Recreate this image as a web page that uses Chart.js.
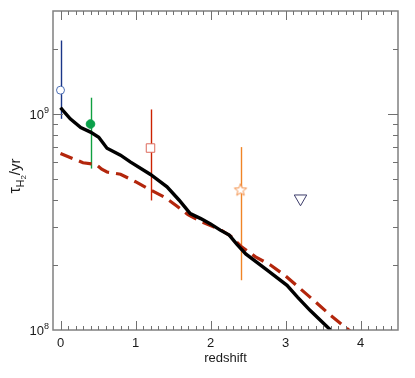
<!DOCTYPE html>
<html>
<head>
<meta charset="utf-8">
<script src="https://cdn.jsdelivr.net/npm/chart.js@4"></script>
<style>
  body { margin: 0; background: #fff; }
  #wrap { width: 415px; height: 378px; }
</style>
</head>
<body>
<div id="wrap"><canvas id="tauChart" width="415" height="378"></canvas></div>
<script>
// model curves: depletion time vs redshift
const modelZ = [0, 0.13, 0.27, 0.4, 0.51, 0.62, 0.8, 0.93, 1.2, 1.42, 1.58, 1.73, 1.87, 2.0, 2.13, 2.25, 2.35, 2.47, 2.76, 3.02, 3.16, 3.33, 3.6];
const modelTau = [1.07e9, 9.5e8, 8.65e8, 8.25e8, 7.8e8, 6.95e8, 6.45e8, 6.0e8, 5.25e8, 4.6e8, 4.0e8, 3.46e8, 3.28e8, 3.1e8, 2.9e8, 2.75e8, 2.5e8, 2.25e8, 1.89e8, 1.61e8, 1.42e8, 1.23e8, 1.0e8];

const dashZ = [0, 0.3, 0.47, 0.55, 0.62, 0.8, 1.0, 1.2, 1.4, 1.55, 1.7, 1.87, 2.0, 2.13, 2.27, 2.4, 2.6, 2.8, 3.0, 3.2, 3.4, 3.6, 3.86];
const dashTau = [6.57e8, 5.95e8, 5.85e8, 5.55e8, 5.39e8, 5.26e8, 4.86e8, 4.45e8, 4.1e8, 3.75e8, 3.42e8, 3.18e8, 3.05e8, 2.92e8, 2.72e8, 2.45e8, 2.18e8, 2.0e8, 1.78e8, 1.55e8, 1.35e8, 1.17e8, 0.99e8];

// observations
const obsZ = [0, 0.4, 1.2, 2.4, 3.2];
const obsTau = [1.29e9, 8.99e8, 6.96e8, 4.48e8, 4.06e8];
const obsLo = [9.5e8, 5.59e8, 3.98e8, 1.70e8, null];
const obsHi = [2.19e9, 1.19e9, 1.05e9, 7.03e8, null];

const xTicks = [0, 1, 2, 3, 4];
const yTicks = [1e8, 1e9];

const barColors = ['#1a3688', '#10a040', '#cc2200', '#f08426', null];
const markColors = ['#4d6fb5', '#0aa04a', '#dd6a5c', '#f2904a', '#3c3c6a'];

function makeStar(color, r) {
    const s = Math.ceil(r * 2 + 3);
    const c = document.createElement('canvas');
    c.width = s; c.height = s;
    const g = c.getContext('2d');
    g.beginPath();
    for (let k = 0; k < 10; k++) {
        const a = -Math.PI / 2 + k * Math.PI / 5;
        const rr = k % 2 ? r * 0.42 : r;
        g.lineTo(s / 2 + rr * Math.cos(a), s / 2 + 0.8 + rr * Math.sin(a));
    }
    g.closePath();
    g.fillStyle = '#fff';
    g.fill();
    g.strokeStyle = color;
    g.lineWidth = 1;
    g.stroke();
    return c;
}

const pointStyles = ['circle', 'circle', 'rect', makeStar(markColors[3], 6.5), 'triangle'];
const pointRadius = [4, 4.3, 6, 6.5, 7.2];
const pointFill = ['#fff', markColors[1], '#fff', '#fff', 'rgba(255,255,255,0)'];
const pointRot = [0, 0, 0, 0, 180];

const errorBars = {
    id: 'errorBars',
    beforeDatasetsDraw(chart) {
        const { ctx, scales: { x, y } } = chart;
        ctx.save();
        ctx.lineWidth = 1.4;
        obsZ.forEach((z, i) => {
            if (obsLo[i] == null) return;
            const px = Math.round(x.getPixelForValue(z)) + 0.5;
            ctx.strokeStyle = barColors[i];
            ctx.beginPath();
            ctx.moveTo(px, y.getPixelForValue(obsLo[i]));
            ctx.lineTo(px, y.getPixelForValue(obsHi[i]));
            ctx.stroke();
        });
        ctx.restore();
    }
};

const frame = {
    id: 'frame',
    afterDraw(chart) {
        const { ctx, chartArea: a, scales: { x, y } } = chart;
        ctx.save();
        ctx.strokeStyle = '#808080';
        ctx.lineWidth = 1.5;
        ctx.strokeRect(a.left, a.top, a.right - a.left, a.bottom - a.top);

        // ticks pointing inward on all sides
        ctx.lineWidth = 1;
        ctx.strokeStyle = '#707070';
        ctx.beginPath();
        for (let i = 0; i <= 45; i++) {
            const v = i / 10;
            const px = Math.round(x.getPixelForValue(v)) + 0.5;
            if (px < a.left + 1 || px > a.right - 1) continue;
            const len = i % 10 === 0 ? 9 : 4;
            ctx.moveTo(px, a.bottom); ctx.lineTo(px, a.bottom - len);
            ctx.moveTo(px, a.top); ctx.lineTo(px, a.top + len);
        }
        [1e8, 1e9].forEach(dec => {
            for (let m = 1; m <= 9; m++) {
                const v = dec * m;
                const py = Math.round(y.getPixelForValue(v)) + 0.5;
                if (py < a.top + 1 || py > a.bottom - 1) continue;
                const len = m === 1 ? 10 : 5;
                ctx.moveTo(a.left, py); ctx.lineTo(a.left + len, py);
                ctx.moveTo(a.right, py); ctx.lineTo(a.right - len, py);
            }
        });
        ctx.stroke();

        // y tick labels with exponents
        ctx.fillStyle = '#1a1a1a';
        ctx.textBaseline = 'alphabetic';
        yTicks.forEach(v => {
            const py = y.getPixelForValue(v);
            const exp = String(Math.round(Math.log10(v)));
            ctx.font = '9px "Liberation Sans", Arial, sans-serif';
            const ew = ctx.measureText(exp).width;
            ctx.textAlign = 'left';
            ctx.fillText(exp, 49 - ew, py - 1);
            ctx.font = '13px "Liberation Sans", Arial, sans-serif';
            ctx.textAlign = 'right';
            ctx.fillText('10', 49 - ew, py + 4.5);
        });

        // axis titles
        ctx.font = '13px "Liberation Sans", Arial, sans-serif';
        ctx.textAlign = 'center';
        ctx.fillText('redshift', (a.left + a.right) / 2, 362);

        ctx.translate(20, 176);
        ctx.rotate(-Math.PI / 2);
        const parts = [
            { t: '\u03c4', size: 16, dy: 0 },
            { t: 'H', size: 10.5, dy: 3.5 },
            { t: '2', size: 8, dy: 6 },
            { t: '/yr', size: 15, dy: 0 }
        ];
        let total = 0;
        parts.forEach(p => {
            ctx.font = p.size + 'px "Liberation Sans", Arial, sans-serif';
            p.w = ctx.measureText(p.t).width;
            total += p.w;
        });
        let cx = -total / 2;
        ctx.textAlign = 'left';
        parts.forEach(p => {
            ctx.font = p.size + 'px "Liberation Sans", Arial, sans-serif';
            ctx.fillText(p.t, cx, p.dy);
            cx += p.w;
        });
        ctx.restore();
    }
};

const datasets = [
    {
        label: 'model',
        data: modelZ.map((z, i) => ({ x: z, y: modelTau[i] })),
        borderColor: '#000',
        borderWidth: 3.4,
        pointRadius: 0,
        tension: 0
    },
    {
        label: 'model (dashed)',
        data: dashZ.map((z, i) => ({ x: z, y: dashTau[i] })),
        borderColor: '#b3260c',
        borderWidth: 3.2,
        borderDash: [13, 7],
        pointRadius: 0,
        tension: 0
    }
];

obsZ.forEach((z, i) => {
    datasets.push({
        label: 'obs' + i,
        data: [{ x: z, y: obsTau[i] }],
        showLine: false,
        pointStyle: pointStyles[i],
        pointRadius: pointRadius[i],
        pointRotation: pointRot[i],
        pointBorderWidth: 1,
        pointBorderColor: markColors[i],
        pointBackgroundColor: pointFill[i]
    });
});

const ctx = document.getElementById('tauChart').getContext('2d');
new Chart(ctx, {
    type: 'line',
    data: { datasets: datasets },
    options: {
        responsive: false,
        animation: false,
        layout: { padding: { top: 11, right: 17, left: 0, bottom: 0 } },
        plugins: {
            legend: { display: false },
            tooltip: { enabled: false }
        },
        scales: {
            x: {
                type: 'linear',
                min: -0.1,
                max: 4.5,
                afterBuildTicks: s => { s.ticks = xTicks.map(v => ({ value: v })); },
                afterFit: s => { s.height = 48; },
                grid: { display: false, drawTicks: false },
                border: { display: false },
                ticks: {
                    color: '#1a1a1a',
                    padding: 6,
                    maxRotation: 0,
                    font: { family: '"Liberation Sans", Arial, sans-serif', size: 13 }
                }
            },
            y: {
                type: 'logarithmic',
                min: 1e8,
                max: 3e9,
                afterBuildTicks: s => { s.ticks = yTicks.map(v => ({ value: v })); },
                afterFit: s => { s.width = 53; },
                grid: { display: false, drawTicks: false },
                border: { display: false },
                ticks: { callback: () => '' }
            }
        }
    },
    plugins: [errorBars, frame]
});
</script>
</body>
</html>
